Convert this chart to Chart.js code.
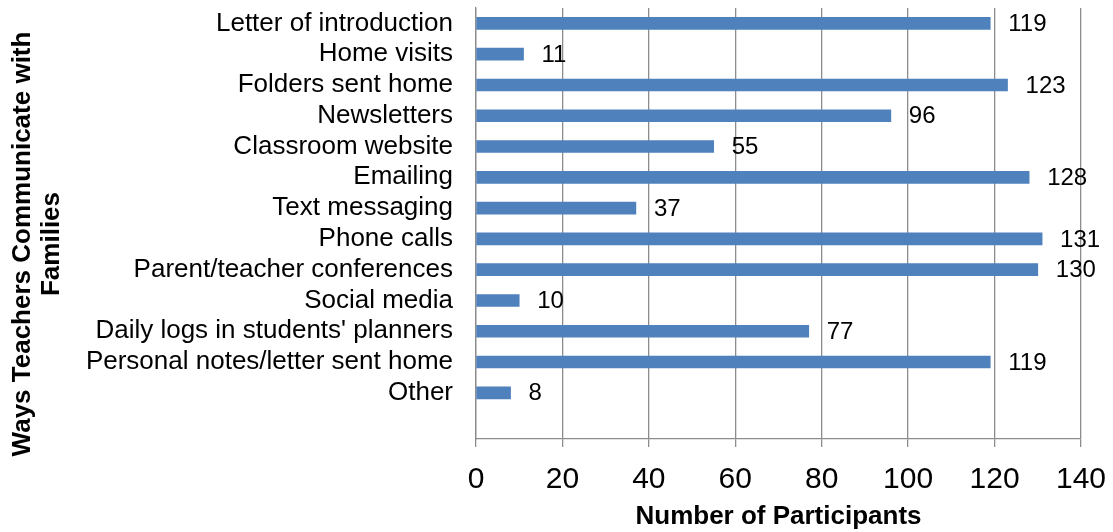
<!DOCTYPE html>
<html>
<head>
<meta charset="utf-8">
<title>Ways Teachers Communicate with Families</title>
<script src="https://cdn.jsdelivr.net/npm/chart.js@4"></script>
<style>
  html, body { margin: 0; padding: 0; background: #fff; }
  #wrap { width: 1113px; height: 532px; position: relative; }
</style>
</head>
<body>
<div id="wrap"><canvas id="chart"></canvas></div>
<script>
// Data
const categories = [
  'Letter of introduction',
  'Home visits',
  'Folders sent home',
  'Newsletters',
  'Classroom website',
  'Emailing',
  'Text messaging',
  'Phone calls',
  'Parent/teacher conferences',
  'Social media',
  "Daily logs in students' planners",
  'Personal notes/letter sent home',
  'Other'
];
const participants = [119, 11, 123, 96, 55, 128, 37, 131, 130, 10, 77, 119, 8];
const xTicks = [0, 20, 40, 60, 80, 100, 120, 140];

const xTitle = 'Number of Participants';
const yTitle = ['Ways Teachers Communicate with', 'Families'];

const FONT = "'Liberation Sans', Arial, sans-serif";
const GRID = '#8c8c8c';

// value labels at the end of each bar
const valueLabels = {
  id: 'valueLabels',
  afterDatasetsDraw(chart) {
    const ctx = chart.ctx;
    const meta = chart.getDatasetMeta(0);
    ctx.save();
    ctx.font = '24px ' + FONT;
    ctx.fillStyle = '#000';
    ctx.textAlign = 'left';
    ctx.textBaseline = 'middle';
    meta.data.forEach((bar, i) => {
      if (participants[i] == null) return;
      ctx.fillText(String(participants[i]), bar.x + 18, bar.y + 1);
    });
    ctx.restore();
  }
};

// y title (two lines, rotated)
const yTitlePlugin = {
  id: 'yTitle',
  afterDraw(chart) {
    const ctx = chart.ctx;
    ctx.save();
    ctx.font = 'bold 26px ' + FONT;
    ctx.fillStyle = '#000';
    ctx.textAlign = 'center';
    ctx.textBaseline = 'middle';
    const xs = [23, 52];
    yTitle.forEach((line, i) => {
      ctx.save();
      ctx.translate(xs[i], 244);
      ctx.rotate(-Math.PI / 2);
      ctx.fillText(line, 0, 0);
      ctx.restore();
    });
    ctx.restore();
  }
};

new Chart(document.getElementById('chart'), {
  type: 'bar',
  data: {
    labels: [...categories, ''],
    datasets: [{
      data: participants,
      backgroundColor: '#4f81bd',
      borderWidth: 0,
      barThickness: 12
    }]
  },
  options: {
    indexAxis: 'y',
    responsive: true,
    maintainAspectRatio: false,
    animation: false,
    layout: { padding: { top: 8, right: 32, left: 0, bottom: 0 } },
    plugins: {
      legend: { display: false },
      tooltip: { enabled: false }
    },
    scales: {
      x: {
        min: 0,
        max: 140,
        afterBuildTicks: scale => { scale.ticks = xTicks.map(v => ({ value: v })); },
        afterFit: scale => {
          scale.height = 93;
          scale.paddingLeft = 0;
          scale.paddingRight = 0;
        },
        grid: { color: GRID, lineWidth: 1.3, drawTicks: true, tickLength: 8, tickColor: GRID },
        border: { display: true, color: GRID, width: 1.3 },
        ticks: { color: '#000', font: { family: FONT, size: 30 }, padding: 15, maxRotation: 0 },
        title: {
          display: true,
          text: xTitle,
          color: '#000',
          font: { family: FONT, size: 26, weight: 'bold' },
          padding: { top: 0, bottom: 0 }
        }
      },
      y: {
        afterFit: scale => {
          scale.width = 476;
          scale.paddingTop = 0;
          scale.paddingBottom = 0;
        },
        grid: { display: false, drawTicks: false },
        border: { display: true, color: GRID, width: 1.3 },
        ticks: { color: '#000', font: { family: FONT, size: 26 }, padding: 23, autoSkip: false }
      }
    }
  },
  plugins: [valueLabels, yTitlePlugin]
});
</script>
</body>
</html>
